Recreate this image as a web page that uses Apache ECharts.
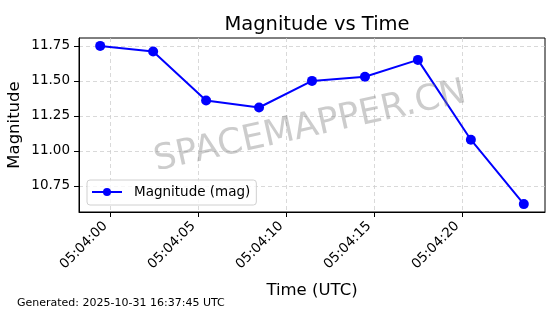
<!DOCTYPE html>
<html><head><meta charset="utf-8">
<script src="https://cdn.jsdelivr.net/npm/echarts@6/dist/echarts.min.js"></script>
<style>html,body{margin:0;padding:0;background:#fff}#c{width:560px;height:314px}</style>
</head><body><div id="c"></div>
<script>
// seconds after 05:04:00 UTC
const times = [-0.57, 2.44, 5.45, 8.46, 11.47, 14.48, 17.49, 20.50, 23.51];
const magnitudes = [11.75, 11.71, 11.36, 11.31, 11.50, 11.53, 11.65, 11.08, 10.62];
const xTicks = [0, 5, 10, 15, 20];
const yTicks = [10.75, 11.00, 11.25, 11.50, 11.75];
const titleText = 'Magnitude vs Time';
const seriesName = 'Magnitude (mag)';
const footer = 'Generated: 2025-10-31 16:37:45 UTC';
const watermark = 'SPACEMAPPER.CN';

const F = 'DejaVu Sans';
function fmtTime(s){ const v = Math.round(s); return '05:04:' + String(v).padStart(2,'0'); }
const xSpan = times[times.length-1]-times[0];
const yMin = Math.min(...magnitudes), yMax = Math.max(...magnitudes);
const ySpan = yMax - yMin;

const chart = echarts.init(document.getElementById('c'), null, {renderer:'canvas'});
chart.setOption({
  animation:false,
  textStyle:{fontFamily:F},
  title:{text:titleText, left:312, top:10, textAlign:'center', textStyle:{fontFamily:F, fontSize:19.5, fontWeight:'normal', color:'#000'}},
  grid:{left:79, right:15, top:38, bottom:102, show:true, borderColor:'#000', borderWidth:1, containLabel:false, outerBoundsMode:'none'},
  legend:{left:87, top:180, orient:'vertical', data:[seriesName], itemWidth:30, itemHeight:10, itemGap:0, padding:[5,6,6,4],
    borderColor:'#d0d0d0', borderWidth:1, borderRadius:3, backgroundColor:'rgba(255,255,255,0.8)',
    textStyle:{fontFamily:F, fontSize:13.5, color:'#000', padding:[0,0,0,7]}},
  xAxis:{type:'value', min:times[0]-0.05*xSpan, max:times[times.length-1]+0.05*xSpan,
    name:'Time (UTC)', nameLocation:'middle', nameGap:70, nameMoveOverlap:false, nameTextStyle:{fontFamily:F, fontSize:16.5, color:'#000'},
    axisLine:{show:true, onZero:false, lineStyle:{color:'#000'}},
    axisTick:{show:true, length:5, customValues:xTicks, lineStyle:{color:'#000'}},
    axisLabel:{customValues:xTicks, rotate:45, formatter:fmtTime, fontFamily:F, fontSize:13.5, color:'#000', margin:7, padding:[0,7,0,0]},
    splitLine:{show:true, lineStyle:{color:'#cfcfcf', type:[4,3], width:0.8}}},
  yAxis:{type:'value', min:yMin-0.05*ySpan, max:yMax+0.05*ySpan,
    name:'Magnitude', nameLocation:'middle', nameGap:56, nameMoveOverlap:false, nameRotate:90, nameTextStyle:{fontFamily:F, fontSize:16.5, color:'#000'},
    axisLine:{show:true, onZero:false, lineStyle:{color:'#000'}},
    axisTick:{show:true, length:5, customValues:yTicks, lineStyle:{color:'#000'}},
    axisLabel:{customValues:yTicks, formatter:v=>v.toFixed(2), fontFamily:F, fontSize:13.5, color:'#000', margin:9},
    splitLine:{show:true, lineStyle:{color:'#cfcfcf', type:[4,3], width:0.8}}},
  graphic:[
    {type:'text', left:17, top:298, style:{text:footer, font:'11px "DejaVu Sans"', fill:'#000'}},
    {type:'text', x:310, y:127, rotation:12.5*Math.PI/180, z:100,
     style:{text:watermark, font:'35.5px "DejaVu Sans"', fill:'rgba(128,128,128,0.4)', align:'center', verticalAlign:'middle'}}
  ],
  series:[{name:seriesName, type:'line', data:times.map((t,i)=>[t,magnitudes[i]]),
    symbol:'circle', symbolSize:10, showSymbol:true,
    lineStyle:{color:'#0000ff', width:2}, itemStyle:{color:'#0000ff'}}]
});
</script></body></html>
